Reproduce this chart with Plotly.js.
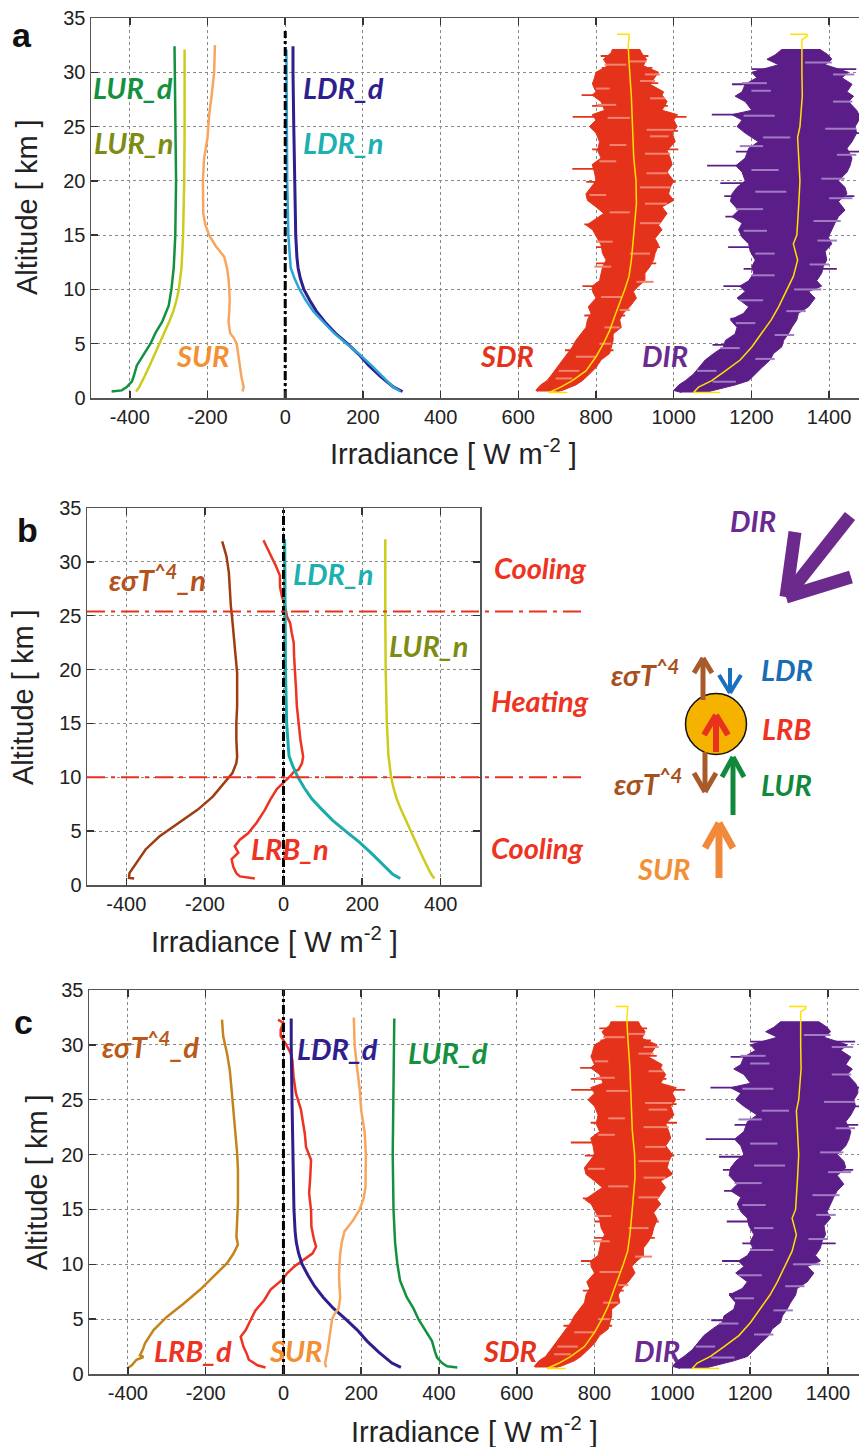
<!DOCTYPE html>
<html><head><meta charset="utf-8">
<script src="https://cdn.plot.ly/plotly-3.0.1.min.js"></script>
<style>html,body{margin:0;padding:0;background:#fff;overflow:hidden}#chart{width:859px;height:1447px}</style>
</head><body><div id="chart"></div>
<script>
// ---------------- DATA (W m^-2 vs altitude km) ----------------
const xTicksWide = [-400,-200,0,200,400,600,800,1000,1200,1400];
const xTicksB = [-400,-200,0,200,400];
const yTicks = [0,5,10,15,20,25,30,35];

// Longwave upward, day (magnitude)
const lurD_alt = [32.4,30,25,20,15,12,10,8.5,7,6,5,4,3,2,1.5,1,0.7,0.6];
const lurD     = [285,284,282,281,283,287,293,300,317,334,347,365,382,390,395,408,421,447];
// Longwave upward, night (magnitude)
const lurN_alt = [32.1,28,25,20,15,12,10,9,8,7,6,5,4,3,2,1,0.6];
const lurN     = [259,258,259,260,263,267,274,280,288,299,311,323,336,349,362,376,384];
// Shortwave upward (magnitude)
const sur_alt = [32.5,30,28,26,24,22,20,18,17,16,15,14,13,12,11,10,9,8,7,6,5.5,5,4,3,2,1,0.6];
const sur     = [181,183,189,196,200,209,212,212,211,206,196,179,157,150,146,144,143,144,146,142,132,125,121,117,113,107,110];
// Longwave downward, day
const ldrD_alt = [32.4,30,25,20,15,13,12,11,10,9,8,7,6,5,4,3,2,1,0.6];
const ldrD     = [20,20,22,24,27,30,33,39,48,63,80,102,128,160,190,215,245,279,302];
// Longwave downward, night
const ldrN_alt = [32.1,25,20,15,13,12,11,10,9,8,7,6,5,4,3,2,1,0.6];
const ldrN     = [3,4,5,8,11,14,24,37,53,72,98,125,158,192,222,250,278,297];
// Shortwave downward: envelope of measurements
const sdr_alt = [0.6,0.7,1.2,1.6,2.2,2.8,3.5,4.1,4.7,5.3,5.9,6.5,7.2,7.8,8.4,9.2,9.8,10.3,10.8,11.5,12.1,12.7,13.3,14.1,14.7,15.5,15.9,16.5,17.0,17.6,18.2,18.8,19.4,20.0,20.8,21.5,22.1,22.8,23.6,24.4,25.0,25.6,26.1,26.5,27.3,27.9,28.2,28.9,29.5,30.0,30.6,31.2,31.8,32.1];
const sdr_lo  = [650,645,657,674,687,700,713,726,739,748,761,774,778,787,780,800,791,790,809,813,817,826,817,813,804,791,775,800,820,800,778,774,787,800,796,790,813,804,809,800,783,800,790,822,813,790,800,791,796,800,830,819,839,842];
const sdr_hi  = [700,713,748,765,783,800,813,835,839,844,844,865,861,870,887,904,896,909,926,926,939,948,952,961,952,970,961,974,983,970,1000,987,991,1000,983,996,991,983,1004,996,1009,1000,1010,970,983,970,974,939,952,961,922,930,917,913];
const sdrSpike_alt = [25.9,24.6,21.1,27.9,16.0,10.3,18.3,29.0,13.9,7.6,30.4,22.9,19.9,12.4,26.9,4.4,31.5];
const sdrSpike_lo  = [740,800,739,763,770,765,780,790,800,770,815,790,775,800,790,720,812];
const sdrSpike_hi  = [1033,1011,860,880,870,870,1000,960,965,875,945,1012,1005,955,985,845,935];
const sdrStreak_alt = [31.0,30.7,29.8,29.2,28.5,27.6,27.0,25.8,24.7,24.1,23.3,22.5,21.8,20.7,19.4,18.7,17.9,17.1,16.1,14.4,13.3,12.1,10.7,9.3,8.1,6.5,5.0,3.8,2.5,1.8];
const sdrStreak_lo  = [887,822,926,913,800,939,804,830,930,939,835,926,809,930,913,783,926,835,913,800,887,796,904,813,861,822,809,748,704,696];
const sdrStreak_hi  = [930,878,965,952,835,978,852,887,1000,987,878,991,852,983,991,826,983,887,965,843,939,839,948,865,887,861,839,800,757,739];
const sdrMean_alt = [0.5,0.5,1.0,1.6,2.5,3.8,5.0,6.2,7.5,8.7,10,11.2,12.7,15,16.7,17.9,20,22.2,25,27.8,30.9,32.5,33.1,33.5,33.5];
const sdrMean     = [726,678,709,739,774,800,819,835,848,861,874,885,891,897,900,904,903,897,894,891,885,883,885,885,854];
// Direct irradiance: envelope of measurements
const dir_alt = [0.5,0.7,1.2,1.6,2.2,2.8,3.5,4.1,4.7,5.3,5.9,6.5,7.2,7.8,8.4,9.2,9.8,10.3,10.8,11.5,12.1,12.7,13.5,14.2,14.8,15.5,16.1,16.7,17.3,18.1,18.8,19.4,20.0,20.8,21.4,22.1,23.0,23.6,24.4,25.0,25.6,26.1,26.5,27.3,27.8,28.2,28.9,29.5,30.0,30.7,31.2,31.6,32.1];
const dir_lo  = [1020,1000,1013,1030,1051,1064,1081,1103,1128,1133,1158,1163,1146,1180,1193,1163,1184,1170,1193,1206,1201,1210,1197,1193,1176,1167,1176,1150,1167,1146,1150,1163,1184,1176,1160,1184,1193,1218,1184,1163,1176,1150,1201,1184,1158,1176,1184,1214,1201,1270,1240,1261,1278];
const dir_hi  = [1080,1107,1158,1193,1210,1227,1248,1257,1278,1283,1295,1304,1317,1321,1347,1364,1347,1381,1368,1381,1385,1394,1390,1407,1398,1407,1415,1424,1441,1424,1446,1441,1424,1446,1454,1459,1446,1459,1471,1467,1477,1477,1471,1450,1463,1446,1459,1433,1450,1390,1407,1398,1377];
const dirSpike_alt = [26.1,24.4,21.4,10.3,16.7,28.9,19.8,13.9,7.3,30.3,22.7,18.6,11.9,4.9];
const dirSpike_lo  = [1098,1250,1086,1128,1133,1150,1120,1140,1146,1200,1160,1130,1180,1100];
const dirSpike_hi  = [1480,1480,1300,1300,1300,1300,1300,1300,1260,1470,1478,1465,1420,1230];
const dirStreak_alt = [30.9,29.8,29.0,28.3,27.3,26.0,24.8,24.0,23.2,22.4,21.0,20.2,19.0,18.4,17.4,16.3,15.4,14.5,13.3,12.3,11.3,10.0,9.0,8.0,6.9,5.8,4.6,3.6,2.5,1.5];
const dirStreak_lo  = [1338,1410,1175,1200,1410,1180,1390,1230,1170,1420,1200,1380,1210,1400,1160,1360,1180,1370,1210,1350,1200,1310,1170,1290,1160,1260,1120,1210,1060,1100];
const dirStreak_hi  = [1407,1465,1240,1250,1460,1260,1470,1300,1230,1470,1270,1440,1290,1460,1230,1430,1240,1420,1260,1400,1260,1380,1230,1340,1210,1310,1170,1260,1110,1160];
const dirMean_alt = [0.5,0.5,1.0,1.3,1.6,2.5,3.5,4.7,6.0,7.2,8.4,10,11.2,12.7,14.2,15,16.7,17.9,20,22.2,24,25,27.8,30,32.1,33.0,33.3,33.5,33.5];
const dirMean     = [1120,1051,1064,1080,1098,1133,1171,1201,1227,1251,1270,1291,1308,1319,1308,1317,1319,1322,1325,1322,1319,1325,1331,1330,1331,1330,1343,1343,1300];
// Emission (night)
const epsN_alt = [31.9,30.5,29,27.4,25.9,24.9,23.7,22.5,21.2,19.7,18.1,16.6,15,13.5,11.9,11.3,10.4,9.5,8.2,7,5.8,4.5,3.3,2.0,1.1,0.65,0.6];
const epsN     = [-156,-145,-139,-137,-134,-131,-128,-124,-120,-118,-118,-118,-120,-120,-118,-120,-130,-150,-180,-218,-265,-316,-351,-376,-392,-393,-380];
// Longwave radiation budget (night)
const lrbN_alt = [32,31.4,30.5,29.6,28.7,27.7,26.8,25.9,24.9,24.3,23.4,22.5,21.2,19.7,18.1,16.6,15,13.5,11.9,11.3,10.7,10.5,10.1,9.5,8.9,7.9,7,5.8,4.8,4.2,3.6,3.0,2.4,1.7,1.1,0.8,0.6];
const lrbN     = [-51,-43,-30,-19,-9,-9,-4,4,9,17,21,26,27,30,32,34,38,43,50,47,38,26,17,0,-17,-34,-47,-68,-90,-111,-124,-115,-132,-128,-120,-111,-73];
// Emission (day)
const epsD_alt = [32.3,30.8,29.2,27.7,26.2,24.7,23.2,21.6,20.1,18.6,17.1,15.6,14.0,12.5,11.8,11,10.1,8.9,7.7,6.4,5.2,4.0,2.8,2.2,1.7,1.55,1.3,0.8,0.5];
const epsD     = [-158,-155,-145,-138,-134,-130,-126,-123,-119,-117,-117,-117,-119,-121,-117,-128,-145,-179,-214,-257,-300,-334,-356,-362,-369,-360,-378,-390,-402];
// Longwave radiation budget (day)
const lrbD_alt = [32.3,32.0,31.4,30.8,30.1,29.2,28.6,27.1,25.6,24.1,23.2,21.9,20.7,19.5,18,16.5,14.9,13.4,12.2,11.6,11,10.4,9.8,9.2,8.6,7.7,6.7,5.8,4.9,4.0,3.4,2.5,1.9,1.3,0.8,0.6];
const lrbD     = [-14,0,-7,-7,6,19,23,26,32,45,49,55,58,71,69,66,71,72,79,84,75,53,28,10,-3,-33,-50,-72,-84,-97,-110,-103,-95,-89,-67,-46];
// Reference line (x = 0) and heating/cooling boundaries (km)
const zeroX = [0,0];
const zeroY_a = [0,33.8];
const zeroY_bc = [0,35];
const layerBounds = [25.4,10.0];

// ---------------- helpers ----------------
const W=859, H=1447;
const PX = x => x/W, PY = y => 1 - y/H;
const neg = a => a.map(v => -v);
function line(x,y,color,xa,ya,width){return {type:'scatter',mode:'lines',x:x,y:y,xaxis:xa,yaxis:ya,line:{color:color,width:width||2.5},hoverinfo:'skip'};}
function zero(y,xa,ya){return {type:'scatter',mode:'lines',x:zeroX,y:y,xaxis:xa,yaxis:ya,line:{color:'#000',width:3,dash:'9px,3px,3px,3px'},hoverinfo:'skip'};}
function band(alt,lo,hi,color,xa,ya){
  return {type:'scatter',mode:'lines',x:lo.concat(hi.slice().reverse()),y:alt.concat(alt.slice().reverse()),
    fill:'toself',fillcolor:color,line:{color:color,width:1},xaxis:xa,yaxis:ya,hoverinfo:'skip'};
}
function segs(alt,lo,hi,color,xa,ya,w){
  const x=[],y=[];
  for(let i=0;i<alt.length;i++){x.push(lo[i],hi[i],null);y.push(alt[i],alt[i],null);}
  return {type:'scatter',mode:'lines',x:x,y:y,xaxis:xa,yaxis:ya,line:{color:color,width:w},hoverinfo:'skip',connectgaps:false};
}
const C = {lurD:'#14913f',lurN:'#cccc1c',lurNlab:'#7d8c12',sur:'#f8a65e',surLab:'#f39034',ldrD:'#2f1e8e',ldrN:'#2ba4da',ldrNlab:'#1db0b0',ldrNb:'#1aabab',
  sdr:'#e4331a',sdrLight:'#f28470',dir:'#5b1e88',dirLight:'#a17cc4',mean:'#ffe000',epsN:'#9e3c12',epsNlab:'#b4521c',lrb:'#ee3322',epsD:'#c4841c',epsDlab:'#b85a1a'};

function swPanel(xa,ya){
  return [
    band(sdr_alt,sdr_lo,sdr_hi,C.sdr,xa,ya),
    segs(sdrSpike_alt,sdrSpike_lo,sdrSpike_hi,C.sdr,xa,ya,1.8),
    segs(sdrStreak_alt,sdrStreak_lo,sdrStreak_hi,C.sdrLight,xa,ya,2),
    line(sdrMean,sdrMean_alt,C.mean,xa,ya,1.5),
    band(dir_alt,dir_lo,dir_hi,C.dir,xa,ya),
    segs(dirSpike_alt,dirSpike_lo,dirSpike_hi,C.dir,xa,ya,1.8),
    segs(dirStreak_alt,dirStreak_lo,dirStreak_hi,C.dirLight,xa,ya,2),
    line(dirMean,dirMean_alt,C.mean,xa,ya,1.5)
  ];
}

// ---------------- traces ----------------
const data = [
  ...swPanel('x','y'),
  line(neg(lurD),lurD_alt,C.lurD,'x','y'),
  line(neg(lurN),lurN_alt,C.lurN,'x','y'),
  line(neg(sur),sur_alt,C.sur,'x','y'),
  line(ldrD,ldrD_alt,C.ldrD,'x','y',3),
  line(ldrN,ldrN_alt,C.ldrN,'x','y'),
  zero(zeroY_a,'x','y'),
  // panel b
  line(epsN,epsN_alt,C.epsN,'x2','y2'),
  line(lrbN,lrbN_alt,C.lrb,'x2','y2'),
  line(lurN,lurN_alt,C.lurN,'x2','y2'),
  line(ldrN,ldrN_alt,C.ldrNb,'x2','y2',3),
  zero(zeroY_bc,'x2','y2'),
  // panel c
  ...swPanel('x3','y3'),
  line(epsD,epsD_alt,C.epsD,'x3','y3'),
  line(lrbD,lrbD_alt,C.lrb,'x3','y3'),
  line(ldrD,ldrD_alt,C.ldrD,'x3','y3',3),
  line(sur,sur_alt,C.sur,'x3','y3'),
  line(lurD,lurD_alt,C.lurD,'x3','y3'),
  zero(zeroY_bc,'x3','y3')
];

// ---------------- axes ----------------
const tickFont = {family:'"Liberation Sans", Arial, sans-serif', size:20, color:'#222'};
function xa(dom,range,tv,anchor){return {domain:dom,range:range,tickvals:tv,ticktext:tv.map(String),anchor:anchor,showgrid:true,gridcolor:'#8a8a8a',griddash:'dot',gridwidth:1,
  zeroline:false,showline:true,linecolor:'#555',linewidth:1.5,mirror:'ticks',ticks:'inside',ticklen:7,tickcolor:'#333',tickwidth:1.5,tickfont:tickFont,fixedrange:true};}
function ya(dom,anchor,mirror){return {domain:dom,range:[0,35],tickvals:yTicks,anchor:anchor,showgrid:true,gridcolor:'#8a8a8a',griddash:'dot',gridwidth:1,
  zeroline:false,showline:true,linecolor:'#555',linewidth:1.5,mirror:mirror,ticks:'inside',ticklen:7,tickcolor:'#333',tickwidth:1.5,tickfont:tickFont,fixedrange:true};}

// ---------------- annotations ----------------
const labFont = 'Lato, "Open Sans", sans-serif';
function lab(t,x,y,color,size){return {xref:'paper',yref:'paper',x:PX(x),y:PY(y),xanchor:'center',yanchor:'middle',showarrow:false,
  text:'<b><i>'+t+'</i></b>',font:{family:labFont,size:size||29,color:color}};}
function title(t,x,y,rot){return {xref:'paper',yref:'paper',x:PX(x),y:PY(y),xanchor:'center',yanchor:'middle',showarrow:false,textangle:rot||0,
  text:t,font:{family:'"Liberation Sans", Arial, sans-serif',size:29,color:'#222'}};}
function letter(t,x,y){return {xref:'paper',yref:'paper',x:PX(x),y:PY(y),xanchor:'center',yanchor:'middle',showarrow:false,
  text:'<b>'+t+'</b>',font:{family:'"Liberation Sans", Arial, sans-serif',size:34,color:'#111'}};}
const irr = 'Irradiance [ W m<sup>-2</sup> ]';
const alt = 'Altitude [ km ]';
const eps = 'εσT<sup>^4</sup>';
const annotations = [
  letter('a',22,35), letter('b',28,530), letter('c',23,1022),
  title(alt,27,207,-90), title(alt,23,697,-90), title(alt,37,1182,-90),
  title(irr,453,452), title(irr,274,940), title(irr,475,1430),
  // panel a
  lab('LUR_d',133,88,C.lurD), lab('LUR_n',133,143,C.lurNlab), lab('LDR_d',343,88,C.ldrD), lab('LDR_n',343,143,C.ldrNlab),
  lab('SUR',202,355,C.surLab), lab('SDR',507,355,C.sdr), lab('DIR',665,355,'#6a2a90'),
  // panel b
  lab(eps+'_n',157,578,C.epsNlab), lab('LDR_n',333,573,C.ldrNlab), lab('LUR_n',428,645,C.lurNlab), lab('LRB_n',290,848,C.lrb),
  lab('Cooling',540,567,C.lrb), lab('Heating',540,700,C.lrb), lab('Cooling',537,847,C.lrb),
  lab('DIR',753,520,'#6a2a90'), lab(eps,645,673,'#a8501c'), lab('LDR',787,670,'#1a6cb4'), lab('LRB',786,728,C.lrb),
  lab(eps,648,782,'#a8501c'), lab('LUR',786,785,'#108a3a'), lab('SUR',663,868,C.surLab),
  // panel c
  lab(eps+'_d',150,1045,C.epsDlab), lab('LDR_d',337,1048,C.ldrD), lab('LUR_d',448,1052,C.lurD),
  lab('LRB_d',193,1350,C.lrb), lab('SUR',295,1350,C.surLab), lab('SDR',510,1350,C.sdr), lab('DIR',657,1350,'#6a2a90')
];

// ---------------- diagram shapes (panel b, right) ----------------
function seg(x0,y0,x1,y1,color,w){return {type:'line',xref:'paper',yref:'paper',x0:PX(x0),y0:PY(y0),x1:PX(x1),y1:PY(y1),line:{color:color,width:w}};}
function arrow(x0,y0,x1,y1,a1,a2,color,w){
  return [seg(x0,y0,x1,y1,color,w), seg(a1[0],a1[1],x1,y1,color,w), seg(a2[0],a2[1],x1,y1,color,w)];
}
const shapes = [];
layerBounds.forEach(b => shapes.push({type:'line',xref:'paper',yref:'y2',x0:PX(87),x1:PX(585),y0:b,y1:b,line:{color:'#e8321e',width:2,dash:'18px,6px,4px,6px'}}));
shapes.push(...arrow(850,516,786,597,[795,532],[851,577],'#6b2a8c',13));
shapes.push({type:'circle',xref:'paper',yref:'paper',x0:PX(685.5),x1:PX(746.5),y0:PY(754.5),y1:PY(693.5),fillcolor:'#f5b300',line:{color:'#111',width:1.5}});
shapes.push(...arrow(703,700,703,658,[694,673],[712,673],'#a85a2a',5));
shapes.push(...arrow(730,668,730,693,[719,675],[741,675],'#1a70c0',4));
shapes.push(...arrow(716,752,716,715,[704,735],[728,735],'#e8321e',6));
shapes.push(...arrow(705,752,705,792,[694,773],[716,773],'#a85a2a',5));
shapes.push(...arrow(733,815,733,757,[722,777],[744,777],'#108a3a',5));
shapes.push(...arrow(719,878,719,823,[705,848],[733,848],'#f08a3a',7));

const layout = {
  width:W, height:H, margin:{l:0,r:0,t:0,b:0}, paper_bgcolor:'#fff', plot_bgcolor:'#fff', showlegend:false,
  xaxis: xa([PX(91),1],[-500,1477],xTicksWide,'y'),
  yaxis: ya([PY(398),PY(18)],'x',false),
  xaxis2: xa([PX(87),PX(480)],[-500,500],xTicksB,'y2'),
  yaxis2: ya([PY(885),PY(508)],'x2','ticks'),
  xaxis3: xa([PX(89),1],[-500,1480],xTicksWide,'y3'),
  yaxis3: ya([PY(1374),PY(990)],'x3',false),
  annotations: annotations, shapes: shapes
};
Plotly.newPlot('chart', data, layout, {displayModeBar:false, staticPlot:true});
</script></body></html>
